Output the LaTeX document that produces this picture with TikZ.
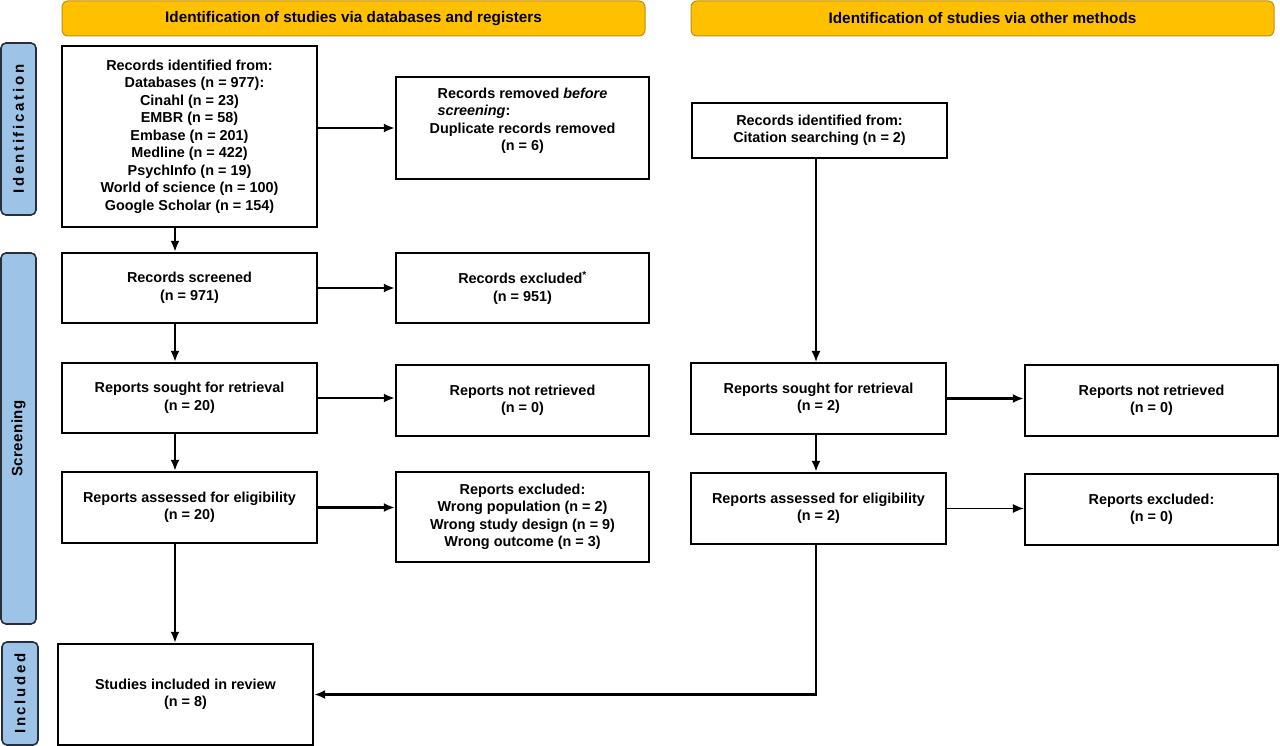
\documentclass[tikz,border=0pt]{standalone}
\usepackage{fontspec}
\setmainfont{Liberation Sans}
\newfontfamily\lblwide[LetterSpace=18]{Liberation Sans}
\newfontfamily\lblnarrow[LetterSpace=3]{Liberation Sans}
\usetikzlibrary{arrows.meta}
\definecolor{bannerfill}{HTML}{FFC000}
\definecolor{bannerdraw}{HTML}{C09010}
\definecolor{lblfill}{HTML}{9DC3E6}
\definecolor{lbldraw}{HTML}{26303C}
\tikzset{
  box/.style={draw=black, line width=2.3pt, fill=white, align=center, inner sep=2pt,
    font=\bfseries\fontsize{14.4}{17.5}\selectfont},
  banner/.style={draw=bannerdraw, line width=1pt, fill=bannerfill, rounded corners=6pt,
    align=center, inner sep=0pt, font=\bfseries\fontsize{15.3}{17}\selectfont},
  sidelbl/.style={draw=lbldraw, line width=1.6pt, fill=lblfill, rounded corners=5pt,
    rotate=90, inner sep=0pt},
  lblwidefont/.style={font=\lblwide\bfseries\fontsize{15}{17}\selectfont},
  lblnarrowfont/.style={font=\lblnarrow\bfseries\fontsize{15}{17}\selectfont},
  arr/.style={-{Latex[length=11pt,width=9pt]}, line width=2.5pt},
  thinarr/.style={-{Latex[length=11pt,width=9pt]}, line width=1.3pt}
}
\begin{document}
\begin{tikzpicture}[x=1pt,y=-1pt]
\useasboundingbox[fill=white] (0,0) rectangle (1280,746);
% banners
\node[banner, minimum width=583pt, minimum height=35pt] (b1) at (353.5,18.5) {Identification of studies via databases and registers};
\node[banner, minimum width=583pt, minimum height=35pt] (b2) at (982.5,18.5) {Identification of studies via other methods};
% side labels
\node[sidelbl, lblwidefont, minimum width=172pt, minimum height=35pt] (lid) at (18.5,129) {Identification};
\node[sidelbl, lblnarrowfont, minimum width=371pt, minimum height=35pt] (lscr) at (18.5,438.5) {Screening};
\node[sidelbl, lblwidefont, minimum width=103pt, minimum height=36pt] (linc) at (20,693.5) {Included};
% left column
\node[box, minimum width=255pt, minimum height=181pt] (id1) at (189.5,136.5) {Records identified from:\\ \hspace*{10pt}Databases (n = 977):\\ Cinahl (n = 23)\\ EMBR (n = 58)\\ Embase (n = 201)\\ Medline (n = 422)\\ PsychInfo (n = 19)\\ World of science (n = 100)\\ Google Scholar (n = 154)};
\node[box, minimum width=253pt, minimum height=102pt] (rem) at (522.5,128) {Records removed \textit{before}\\ \makebox[170pt][l]{\textit{screening}:}\\ Duplicate records removed\\ (n = 6)\\ \mbox{}};
\node[box, minimum width=255pt, minimum height=70pt] (scr) at (189.5,288) {Records screened\\ (n = 971)};
\node[box, minimum width=253pt, minimum height=70pt] (exc) at (522.5,288) {Records excluded\textsuperscript{*}\\ (n = 951)};
\node[box, minimum width=255pt, minimum height=70pt] (sgt) at (189.5,398) {Reports sought for retrieval\\ (n = 20)};
\node[box, minimum width=253pt, minimum height=71pt] (nrt) at (522.5,400.5) {Reports not retrieved\\ (n = 0)};
\node[box, minimum width=255pt, minimum height=71pt] (ass) at (189.5,507.5) {Reports assessed for eligibility\\ (n = 20)};
\node[box, minimum width=253pt, minimum height=90pt] (rex) at (522.5,517) {Reports excluded:\\ Wrong population (n = 2)\\ Wrong study design (n = 9)\\ Wrong outcome (n = 3)};
\node[box, minimum width=255pt, minimum height=101pt] (inc) at (185.5,694.5) {Studies included in review\\ (n = 8)};
% right column
\node[box, minimum width=255pt, minimum height=55pt] (cit) at (819.5,130.5) {Records identified from:\\ Citation searching (n = 2)};
\node[box, minimum width=255pt, minimum height=71pt] (sgt2) at (818.5,398.5) {Reports sought for retrieval\\ (n = 2)};
\node[box, minimum width=253pt, minimum height=71pt] (nrt2) at (1151.5,400.5) {Reports not retrieved\\ (n = 0)};
\node[box, minimum width=255pt, minimum height=71pt] (ass2) at (818.5,508.5) {Reports assessed for eligibility\\ (n = 2)};
\node[box, minimum width=253pt, minimum height=71pt] (rex2) at (1151.5,509.5) {Reports excluded:\\ (n = 0)};
% vertical arrows, left
\draw[arr] ([xshift=-14.5pt]id1.south) -- ([xshift=-14.5pt]scr.north);
\draw[arr] ([xshift=-14.5pt]scr.south) -- ([xshift=-14.5pt]sgt.north);
\draw[arr] ([xshift=-14.5pt]sgt.south) -- ([xshift=-14.5pt]ass.north);
\draw[arr] ([xshift=-14.5pt]ass.south) -- ([xshift=-10.5pt]inc.north);
% horizontal arrows, left
\draw[arr] (id1.east |- rem.west) -- (rem.west);
\draw[arr] (scr.east) -- (scr.east -| exc.west);
\draw[arr] (sgt.east) -- (sgt.east -| nrt.west);
\draw[arr] (ass.east) -- (ass.east -| rex.west);
% right column
\draw[thinarr] ([xshift=-3.5pt]cit.south) -- ([xshift=-2.5pt]sgt2.north);
\draw[arr] ([xshift=-2.5pt]sgt2.south) -- ([xshift=-2.5pt]ass2.north);
\draw[arr] (sgt2.east) -- (sgt2.east -| nrt2.west);
\draw[thinarr] (ass2.east) -- (ass2.east -| rex2.west);
\draw[arr] ([xshift=-2.5pt]ass2.south) |- (inc.east);
\end{tikzpicture}
\end{document}
